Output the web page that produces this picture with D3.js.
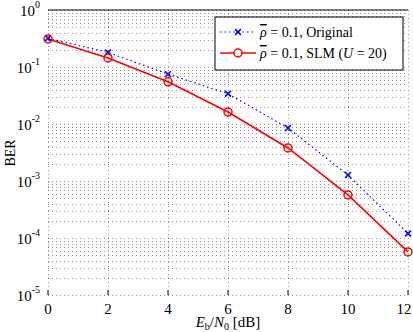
<!DOCTYPE html>
<html>
<head>
<meta charset="utf-8">
<script src="https://cdn.jsdelivr.net/npm/d3@7"></script>
<style>
  body { margin: 0; background: #fff; }
  text { font-family: "Liberation Serif", "DejaVu Serif", serif; }
</style>
</head>
<body>
<script>
var snr = [0, 2, 4, 6, 8, 10, 12];
var berOriginal = [0.32, 0.18, 0.075, 0.034, 0.0085, 0.00127, 0.00012];
var berSlm = [0.31, 0.144, 0.055, 0.0162, 0.0038, 0.00057, 0.000057];
var xTicks = [0, 2, 4, 6, 8, 10, 12];
var yExps = [0, -1, -2, -3, -4, -5];

var width = 413, height = 332;
var margin = {top: 10, right: 5, bottom: 37, left: 48};

var svg = d3.select("body").append("svg")
    .attr("width", width)
    .attr("height", height);

var x = d3.scaleLinear().domain([0, 12]).range([margin.left, 408]);
var y = d3.scaleLog().domain([1e-5, 1]).range([height - margin.bottom, margin.top]);

var g = svg.append("g");

// grid lines (major + minor)
var minor = [];
for (var e = -5; e < 0; e++) {
    for (var k = 1; k < 10; k++) minor.push(k * Math.pow(10, e));
}
minor.push(1);

g.selectAll(".hgrid").data(minor).enter().append("line")
    .attr("x1", x(0)).attr("x2", x(12))
    .attr("y1", function(d) { return Math.round(y(d)) + 0.5; })
    .attr("y2", function(d) { return Math.round(y(d)) + 0.5; })
    .attr("stroke", "#666")
    .attr("stroke-width", 0.7)
    .attr("stroke-dasharray", "1,3");

g.selectAll(".vgrid").data(xTicks).enter().append("line")
    .attr("x1", function(d) { return Math.round(x(d)) + 0.5; })
    .attr("x2", function(d) { return Math.round(x(d)) + 0.5; })
    .attr("y1", y(1)).attr("y2", y(1e-5))
    .attr("stroke", "#666")
    .attr("stroke-width", 0.7)
    .attr("stroke-dasharray", "1,3");

// top border
g.append("line")
    .attr("x1", x(0)).attr("x2", x(12))
    .attr("y1", y(1)).attr("y2", y(1))
    .attr("stroke", "#000");

// small ticks
g.selectAll(".xt").data(xTicks).enter().append("line")
    .attr("x1", function(d) { return x(d); })
    .attr("x2", function(d) { return x(d); })
    .attr("y1", y(1e-5)).attr("y2", y(1e-5) - 5)
    .attr("stroke", "#000");

// x tick labels
g.selectAll(".xl").data(xTicks).enter().append("text")
    .attr("x", function(d) { return d === 12 ? x(d) - 4 : x(d); })
    .attr("y", 314)
    .attr("text-anchor", "middle")
    .attr("font-size", 15)
    .text(function(d) { return d; });

// y tick labels 10^n
var yl = g.selectAll(".yl").data(yExps).enter().append("text")
    .attr("x", 40)
    .attr("y", function(d) { return y(Math.pow(10, d)) + 6; })
    .attr("text-anchor", "end")
    .attr("font-size", 15);
yl.append("tspan").text("10");
yl.append("tspan")
    .attr("font-size", 10)
    .attr("dy", -8)
    .text(function(d) { return d; });

// axis titles
svg.append("text")
    .attr("transform", "translate(15," + 153 + ") rotate(-90)")
    .attr("text-anchor", "middle")
    .attr("font-size", 14)
    .text("BER");

var xt = svg.append("text")
    .attr("x", 228)
    .attr("y", 327)
    .attr("text-anchor", "middle")
    .attr("font-size", 15);
xt.append("tspan").attr("font-style", "italic").text("E");
xt.append("tspan").attr("font-size", 10).attr("dy", 3).text("b");
xt.append("tspan").attr("dy", -3).text("/");
xt.append("tspan").attr("font-style", "italic").text("N");
xt.append("tspan").attr("font-size", 10).attr("dy", 3).text("0");
xt.append("tspan").attr("dy", -3).text(" [dB]");

// series
var line = d3.line()
    .x(function(d, i) { return x(snr[i]); })
    .y(function(d) { return y(d); });

g.append("path").datum(berOriginal)
    .attr("d", line)
    .attr("fill", "none")
    .attr("stroke", "#0000ff")
    .attr("stroke-width", 1.2)
    .attr("stroke-dasharray", "1.5,3");

g.append("path").datum(berSlm)
    .attr("d", line)
    .attr("fill", "none")
    .attr("stroke", "#ff0000")
    .attr("stroke-width", 1.6);

var cross = d3.symbol().type(d3.symbolX).size(24);
g.selectAll(".xm").data(berOriginal).enter().append("path")
    .attr("d", cross)
    .attr("transform", function(d, i) { return "translate(" + x(snr[i]) + "," + y(d) + ")"; })
    .attr("stroke", "#0000ff")
    .attr("stroke-width", 1.6)
    .attr("fill", "none");

g.selectAll(".om").data(berSlm).enter().append("circle")
    .attr("cx", function(d, i) { return x(snr[i]); })
    .attr("cy", function(d) { return y(d); })
    .attr("r", 4)
    .attr("fill", "none")
    .attr("stroke", "#ff0000")
    .attr("stroke-width", 1.5);

// legend
var lg = svg.append("g");
lg.append("rect")
    .attr("x", 215).attr("y", 17)
    .attr("width", 188).attr("height", 53)
    .attr("fill", "#fff")
    .attr("stroke", "#000");

lg.append("line")
    .attr("x1", 220).attr("x2", 253).attr("y1", 32).attr("y2", 32)
    .attr("stroke", "#0000ff").attr("stroke-dasharray", "1.5,3").attr("stroke-width", 1.2);
lg.append("path").attr("d", cross)
    .attr("transform", "translate(238,32)")
    .attr("stroke", "#0000ff").attr("stroke-width", 1.6).attr("fill", "none");

lg.append("line")
    .attr("x1", 220).attr("x2", 256).attr("y1", 53).attr("y2", 53)
    .attr("stroke", "#ff0000").attr("stroke-width", 1.6);
lg.append("circle").attr("cx", 238).attr("cy", 53).attr("r", 4)
    .attr("fill", "#fff").attr("stroke", "#ff0000").attr("stroke-width", 1.5);

function rhoBar(t) {
    t.append("tspan").attr("font-style", "italic")
        .style("text-decoration", "overline").text("\u03C1");
}

var t1 = lg.append("text").attr("x", 260).attr("y", 37).attr("font-size", 14);
rhoBar(t1);
t1.append("tspan").text(" = 0.1, Original");

var t2 = lg.append("text").attr("x", 260).attr("y", 58).attr("font-size", 14);
rhoBar(t2);
t2.append("tspan").text(" = 0.1, SLM (");
t2.append("tspan").attr("font-style", "italic").text("U");
t2.append("tspan").text(" = 20)");
</script>
</body>
</html>
